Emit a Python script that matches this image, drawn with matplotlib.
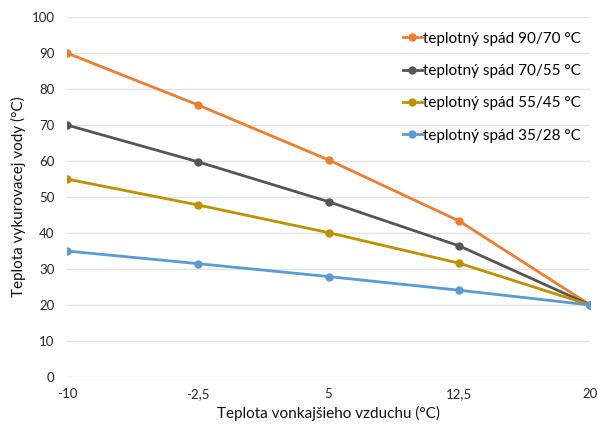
import matplotlib.pyplot as plt

plt.rcParams["font.family"] = ["Lato", "DejaVu Sans"]

x_values = [-10, -2.5, 5, 12.5, 20]
x_labels = ["-10", "-2,5", "5", "12,5", "20"]

spad_90_70 = [90, 75.6, 60.3, 43.3, 20]
spad_70_55 = [70, 59.8, 48.7, 36.4, 20]
spad_55_45 = [55, 47.8, 40.1, 31.6, 20]
spad_35_28 = [35, 31.5, 27.9, 24.1, 20]

series = [
    ("teplotný spád 90/70 °C", spad_90_70, "#ED7D31"),
    ("teplotný spád 70/55 °C", spad_70_55, "#555555"),
    ("teplotný spád 55/45 °C", spad_55_45, "#BF9000"),
    ("teplotný spád 35/28 °C", spad_35_28, "#5B9BD5"),
]

fig = plt.figure(figsize=(5.98, 4.26), dpi=100)
ax = fig.add_axes([0.112, 0.115, 0.875, 0.845])

for label, values, color in series:
    ax.plot(x_values, values, color=color, linewidth=2, marker="o",
            markersize=5, label=label)

ax.set_xlim(-10, 20)
ax.set_ylim(0, 100)
ax.set_xticks(x_values)
ax.set_xticklabels(x_labels)
ax.set_yticks(range(0, 101, 10))
ax.grid(axis="y", color="#E3E3E3", linewidth=1)
ax.set_axisbelow(True)
for spine in ax.spines.values():
    spine.set_visible(False)
ax.tick_params(length=0, labelsize=9.5, colors="#262626", pad=8)
ax.tick_params(axis="y", pad=9)

ax.set_xlabel("Teplota vonkajšieho vzduchu (°C)", fontsize=11, color="#111111")
ax.set_ylabel("Teplota vykurovacej vody (°C)", fontsize=11, color="#111111",
              labelpad=4)

ax.legend(loc="upper right", bbox_to_anchor=(1.0, 0.985), frameon=False,
          fontsize=11, handlelength=1.2, handletextpad=0.1,
          labelspacing=1.2, borderaxespad=0.2)

fig.savefig("out.png", dpi=100)
